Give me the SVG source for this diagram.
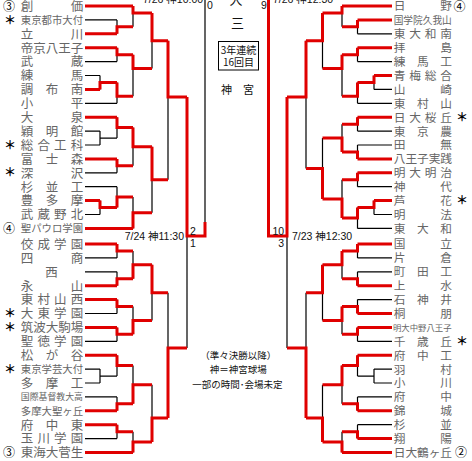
<svg xmlns="http://www.w3.org/2000/svg" width="472" height="461" viewBox="0 0 472 461">
<style>
text{font-family:"Noto Sans CJK JP","Noto Sans",sans-serif;}
.n{font-size:12.5px;fill:#666;}
.ns{font-size:10.4px;fill:#666;}
.nxs{font-size:8.9px;fill:#666;}
.r{font-size:11.7px;fill:#666;}
.rs{font-size:9.7px;fill:#666;}
.rxs{font-size:8.4px;fill:#666;}
.mk{font-size:12px;fill:#000;font-weight:bold;text-anchor:middle;}
.sd{font-size:12px;fill:#000;text-anchor:middle;}
.lb{font-family:"Liberation Sans","Noto Sans CJK JP",sans-serif;font-size:10.5px;fill:#111;}
.c{font-size:11px;fill:#111;text-anchor:middle;}
.nt{font-size:9.5px;fill:#111;text-anchor:middle;}
.blk{fill:none;stroke:#000;stroke-width:1.2;}
.red{fill:none;stroke:#e00000;stroke-width:3;stroke-linejoin:miter;}
</style>
<rect width="472" height="461" fill="#fff"/>
<g id="connectors">
<path class="blk" d="M85 19.9H117M85 61.6H117M85 75.5H100M85 103.3H117M85 131.1H100M85 145H100M85 172.8H117M85 186.7H117M85 214.5H100M85 257.9H117M85 271.8H117M85 313.5H117M85 341.3H117M85 369.1H100M85 383H100M85 396.9H117M85 438.6H117
M117 19.9V33.8M133 6V26.85M117 47.7V61.6M100 75.5V89.4M117 82.45V103.3M133 54.65V96.35M152 13V68.5M100 131.1V145M117 117.2V138.05M117 158.9V172.8M133 127.6V165.85M100 200.6V214.5M117 186.7V207.55M133 197.1V228.4M152 146.7V212.75M168 40.75V179.7M117 244V257.9M117 271.8V285.7M133 250.95V278.75M117 299.6V313.5M117 327.4V341.3M133 306.55V334.35M152 264.85V320.45M100 369.1V383M117 355.2V376.05M117 396.9V410.8M133 365.6V403.85M117 424.7V438.6M133 431.65V452.5M152 384.7V442.1M168 292.65V418M187 97V348M205 0V236
M100 138.05H117M100 376.05H117"/>
<path class="red" d="M85 6H133M85 33.8H117M85 47.7H117M85 89.4H100M85 117.2H117M85 158.9H117M85 200.6H100M85 228.4H133M85 244H117M85 285.7H117M85 299.6H117M85 327.4H117M85 355.2H117M85 410.8H117M85 424.7H117M85 452.5H133
M117 33.8V26.85H133M133 6V13H152M117 47.7V54.65H133M100 89.4V82.45H117M117 82.45V96.35H133M133 54.65V68.5H152M152 13V40.75H168
M117 117.2V127.6H133M117 158.9V165.85H133M133 127.6V146.7H152M100 200.6V207.55H117M117 207.55V197.1H133M133 228.4V212.75H152M152 146.7V179.7H168M168 40.75V97H187
M117 244V250.95H133M117 285.7V278.75H133M133 278.75V264.85H152M117 299.6V306.55H133M117 327.4V334.35H133M133 334.35V320.45H152M152 264.85V292.65H168
M117 355.2V365.6H133M117 410.8V403.85H133M133 403.85V384.7H152M117 424.7V431.65H133M133 452.5V442.1H152M152 442.1V418H168M168 418V348H187M187 97V236H205V222"/>
<path class="blk" d="M392 33.8H357.5M392 61.6H357.5M392 89.4H374M392 103.3H357.5M392 131.1H357.5M392 145H357.5M392 186.7H357.5M392 214.5H374M392 228.4H357.5M392 257.9H357.5M392 271.8H357.5M392 299.6H357.5M392 341.3H357.5M392 369.1H374M392 383H374M392 396.9H357.5M392 424.7H357.5
M357.5 19.9V33.8M342 6V26.85M357.5 47.7V61.6M374 75.5V89.4M357.5 82.45V103.3M342 54.65V96.35M322.5 13V68.5M357.5 117.2V131.1M357.5 145V158.9M342 124.15V151.95M357.5 172.8V186.7M374 200.6V214.5M357.5 207.55V228.4M342 179.75V217.98M322.5 138.05V198.9M306 40.75V168.5
M357.5 244V257.9M357.5 271.8V285.7M342 250.95V278.75M357.5 299.6V313.5M357.5 327.4V341.3M342 306.55V334.35M322.5 264.85V320.45M374 369.1V383M357.5 355.2V376.05M357.5 396.9V410.8M342 365.6V403.85M357.5 424.7V438.6M342 431.65V452.5M322.5 384.7V442.1M306 292.65V418M287 97V348
M374 376.05H357.5"/>
<path class="red" d="M392 6H342M392 19.9H357.5M392 47.7H357.5M392 75.5H374M392 117.2H357.5M392 158.9H357.5M392 172.8H357.5M392 200.6H374M392 244H357.5M392 285.7H357.5M392 313.5H357.5M392 327.4H357.5M392 355.2H357.5M392 410.8H357.5M392 438.6H357.5M392 452.5H342
M357.5 19.9V26.85H342M342 6V13H322.5M357.5 47.7V54.65H342M374 75.5V82.45H357.5M357.5 82.45V96.35H342M342 54.65V68.5H322.5M322.5 13V40.75H306
M357.5 117.2V124.15H342M357.5 158.9V151.95H342M342 151.95V138.05H322.5M357.5 172.8V179.75H342M374 200.6V207.55H357.5M357.5 207.55V217.98H342M342 217.98V198.9H322.5M322.5 198.9V168.5H306M306 40.75V97H287
M357.5 244V250.95H342M357.5 285.7V278.75H342M342 250.95V264.85H322.5M357.5 313.5V306.55H342M357.5 327.4V334.35H342M342 306.55V320.45H322.5M322.5 264.85V292.65H306
M357.5 355.2V365.6H342M357.5 410.8V403.85H342M342 365.6V384.7H322.5M357.5 438.6V431.65H342M342 452.5V442.1H322.5M322.5 442.1V418H306M306 418V348H287M287 97V236H268.5V0"/>
</g>
<g id="center">
<text class="lb" x="143" y="3">7/26 神10:00</text>
<text class="lb" x="273" y="3">7/26 神12:30</text>
<text class="lb" x="207" y="8.5">0</text>
<text class="lb" x="261" y="8.5">9</text>
<text class="c" x="236" y="4" style="font-size:13px">大</text>
<text class="c" x="237.5" y="28" style="font-size:13px">三</text>
<rect x="218.5" y="41.5" width="40" height="28.5" fill="none" stroke="#000" stroke-width="1"/>
<text class="c" x="238.5" y="54" style="font-size:10px">3年連続</text>
<text class="c" x="238.5" y="65.5" style="font-size:10px">16回目</text>
<text class="c" x="237.5" y="93.5" style="font-size:11px" xml:space="preserve">神　宮</text>
<text class="lb" x="184" y="239.5" text-anchor="end">7/24 神11:30</text>
<text class="lb" x="190" y="235">2</text>
<text class="lb" x="190" y="246.7">1</text>
<text class="lb" x="272.5" y="235">10</text>
<text class="lb" x="278.3" y="246.7">3</text>
<text class="lb" x="292" y="239.5">7/23 神12:30</text>
<text class="nt" x="238.3" y="358.5">（準々決勝以降）</text>
<text class="nt" x="238.3" y="372.8">神＝神宮球場</text>
<text class="nt" x="237.5" y="387.5">一部の時間･会場未定</text>
</g>
<g id="left">
<g id="L0"><text class="sd" x="9" y="10.5">③</text><text class="n" x="20.8 70.8" y="10.8">創価</text></g>
<g id="L1"><text class="mk" x="10" y="24.5">＊</text><text class="ns" x="20.8" y="23.9">東京都市大付</text></g>
<g id="L2"><text class="n" x="20.8 70.8" y="38.6">立川</text></g>
<g id="L3"><text class="n" x="20.8 33.3 45.8 58.3 70.8" y="52.5">帝京八王子</text></g>
<g id="L4"><text class="n" x="20.8 70.8" y="66.4">武蔵</text></g>
<g id="L5"><text class="n" x="20.8 70.8" y="80.3">練馬</text></g>
<g id="L6"><text class="n" x="20.8 45.8 70.8" y="94.2">調布南</text></g>
<g id="L7"><text class="n" x="20.8 70.8" y="108.1">小平</text></g>
<g id="L8"><text class="n" x="20.8 70.8" y="122">大泉</text></g>
<g id="L9"><text class="n" x="20.8 45.8 70.8" y="135.9">穎明館</text></g>
<g id="L10"><text class="mk" x="10" y="149.6">＊</text><text class="n" x="20.8 37.5 54.1 70.8" y="149.8">総合工科</text></g>
<g id="L11"><text class="n" x="20.8 45.8 70.8" y="163.7">富士森</text></g>
<g id="L12"><text class="mk" x="10" y="177.4">＊</text><text class="n" x="20.8 70.8" y="177.6">深沢</text></g>
<g id="L13"><text class="n" x="20.8 45.8 70.8" y="191.5">杉並工</text></g>
<g id="L14"><text class="n" x="20.8 45.8 70.8" y="205.4">豊多摩</text></g>
<g id="L15"><text class="n" x="20.8 37.5 54.1 70.8" y="219.3">武蔵野北</text></g>
<g id="L16"><text class="sd" x="9" y="232.9">④</text><text class="ns" x="20.8" y="232.4">聖パウロ学園</text></g>
<g id="L17"><text class="n" x="20.8 37.5 54.1 70.8" y="248.8">佼成学園</text></g>
<g id="L18"><text class="n" x="20.8 70.8" y="262.7">四商</text></g>
<g id="L19"><text class="n" x="51.5" y="276.6" text-anchor="middle">西</text></g>
<g id="L20"><text class="n" x="20.8 70.8" y="290.5">永山</text></g>
<g id="L21"><text class="n" x="20.8 37.5 54.1 70.8" y="304.4">東村山西</text></g>
<g id="L22"><text class="mk" x="10" y="318.1">＊</text><text class="n" x="20.8 37.5 54.1 70.8" y="318.3">大東学園</text></g>
<g id="L23"><text class="mk" x="10" y="332">＊</text><text class="n" x="20.8 33.3 45.8 58.3 70.8" y="332.2">筑波大駒場</text></g>
<g id="L24"><text class="n" x="20.8 37.5 54.1 70.8" y="346.1">聖徳学園</text></g>
<g id="L25"><text class="n" x="20.8 45.8 70.8" y="360">松が谷</text></g>
<g id="L26"><text class="mk" x="10" y="373.7">＊</text><text class="ns" x="20.8" y="373.1">東京学芸大付</text></g>
<g id="L27"><text class="n" x="20.8 45.8 70.8" y="387.8">多摩工</text></g>
<g id="L28"><text class="nxs" x="20.8" y="400.3">国際基督教大高</text></g>
<g id="L29"><text class="ns" x="20.8" y="414.8">多摩大聖ヶ丘</text></g>
<g id="L30"><text class="n" x="20.8 45.8 70.8" y="429.5">府中東</text></g>
<g id="L31"><text class="n" x="20.8 37.5 54.1 70.8" y="443.4">玉川学園</text></g>
<g id="L32"><text class="sd" x="9" y="457">③</text><text class="n" x="20.8 33.3 45.8 58.3 70.8" y="457.3">東海大菅生</text></g>
</g>
<g id="right">
<g id="R0"><text class="r" x="393.7 440.3" y="10.45">日野</text><text class="sd" x="459.5" y="10.5">④</text></g>
<g id="R1"><text class="rs" x="393.7" y="23.6">国学院久我山</text></g>
<g id="R2"><text class="r" x="393.7 409.2 424.8 440.3" y="38.25">東大和南</text></g>
<g id="R3"><text class="r" x="393.7 440.3" y="52.15">拝島</text></g>
<g id="R4"><text class="r" x="393.7 417 440.3" y="66.05">練馬工</text></g>
<g id="R5"><text class="r" x="393.7 409.2 424.8 440.3" y="79.95">青梅総合</text></g>
<g id="R6"><text class="r" x="393.7 440.3" y="93.85">山崎</text></g>
<g id="R7"><text class="r" x="393.7 417 440.3" y="107.75">東村山</text></g>
<g id="R8"><text class="r" x="393.7 409.2 424.8 440.3" y="121.65">日大桜丘</text><text class="mk" x="462" y="121.8">＊</text></g>
<g id="R9"><text class="r" x="393.7 417 440.3" y="135.55">東京農</text></g>
<g id="R10"><text class="r" x="393.7 440.3" y="149.45">田無</text></g>
<g id="R11"><text class="r" x="393.7 405.4 417 428.7 440.3" y="163.35">八王子実践</text></g>
<g id="R12"><text class="r" x="393.7 409.2 424.8 440.3" y="177.25">明大明治</text></g>
<g id="R13"><text class="r" x="393.7 440.3" y="191.15">神代</text></g>
<g id="R14"><text class="r" x="393.7 440.3" y="205.05">芦花</text><text class="mk" x="462" y="205.2">＊</text></g>
<g id="R15"><text class="r" x="393.7 440.3" y="218.95">明法</text></g>
<g id="R16"><text class="r" x="393.7 417 440.3" y="232.85">東大和</text></g>
<g id="R17"><text class="r" x="393.7 440.3" y="248.45">国立</text></g>
<g id="R18"><text class="r" x="393.7 440.3" y="262.35">片倉</text></g>
<g id="R19"><text class="r" x="393.7 417 440.3" y="276.25">町田工</text></g>
<g id="R20"><text class="r" x="393.7 440.3" y="290.15">上水</text></g>
<g id="R21"><text class="r" x="393.7 417 440.3" y="304.05">石神井</text></g>
<g id="R22"><text class="r" x="393.7 440.3" y="317.95">桐朋</text></g>
<g id="R23"><text class="rxs" x="393" y="330.6">明大中野八王子</text></g>
<g id="R24"><text class="r" x="393.7 417 440.3" y="345.75">千歳丘</text><text class="mk" x="462" y="345.9">＊</text></g>
<g id="R25"><text class="r" x="393.7 417 440.3" y="359.65">府中工</text></g>
<g id="R26"><text class="r" x="393.7 440.3" y="373.55">羽村</text></g>
<g id="R27"><text class="r" x="393.7 440.3" y="387.45">小川</text></g>
<g id="R28"><text class="r" x="393.7 440.3" y="401.35">府中</text></g>
<g id="R29"><text class="r" x="393.7 440.3" y="415.25">錦城</text></g>
<g id="R30"><text class="r" x="393.7 440.3" y="429.15">杉並</text></g>
<g id="R31"><text class="r" x="393.7 440.3" y="443.05">翔陽</text></g>
<g id="R32"><text class="r" x="393.7 405.4 417 428.7 440.3" y="456.95">日大鶴ヶ丘</text><text class="sd" x="461" y="457">②</text></g>
</g>
</svg>
